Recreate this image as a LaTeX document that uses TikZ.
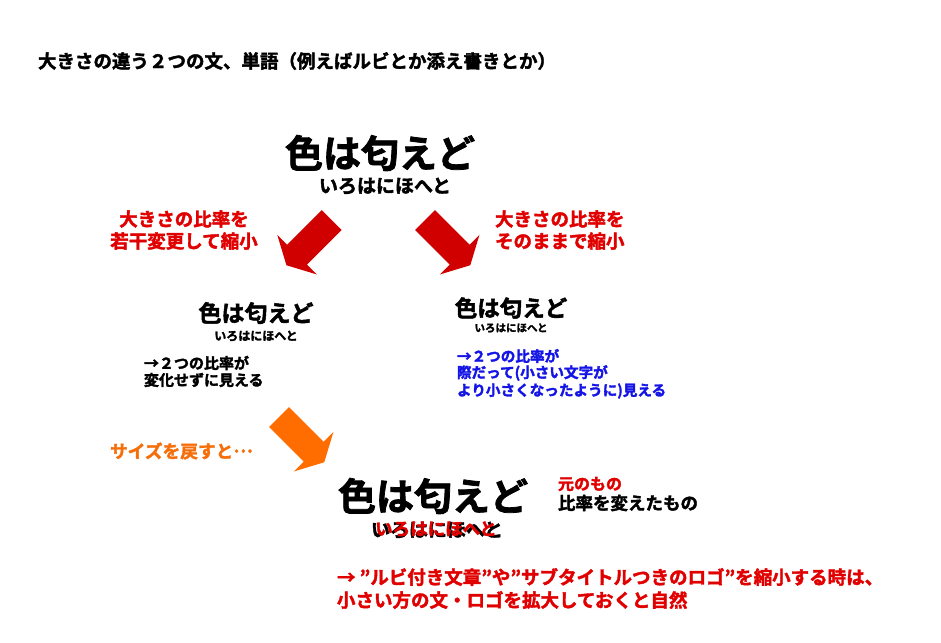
\documentclass[tikz,border=0pt]{standalone}
\usepackage{fontspec}
\setmainfont{Noto Sans CJK JP Bold}[FakeBold=2]
\definecolor{arrred}{RGB}{208,0,0}
\definecolor{txtred}{RGB}{225,0,0}
\definecolor{txtblue}{RGB}{20,20,230}
\definecolor{arrorange}{RGB}{255,108,0}
\definecolor{txtorange}{RGB}{245,110,10}
\begin{document}
\begin{tikzpicture}[x=1pt,y=-1pt]
\tikzset{
  fs/.style={font=\fontsize{#1}{#1}\selectfont},
  txt/.style={inner sep=0pt, outer sep=0pt},
  lft/.style={txt, anchor=west},
  blockarrow/.pic={\fill[pic actions] (0,-14) -- (49,-14) -- (49,-28) -- (64,0) -- (49,28) -- (49,14) -- (0,14) -- cycle;}
}
\useasboundingbox[fill=white] (0,0) rectangle (941,642);
% title
\node[lft,fs=18.5] (title) at (38,61) {大きさの違う２つの文、単語（例えばルビとか添え書きとか）};
% original
\node[txt,fs=38] (orig) at (380,153) {色は匂えど};
\node[txt,fs=19] (origruby) at (385,186) {いろはにほへと};
% captions
\node[txt,fs=18.5,text=txtred] (lt1) at (184,219) {大きさの比率を};
\node[txt,fs=18.5,text=txtred] (lt2) at (184,241) {若干変更して縮小};
\node[lft,fs=18.5,text=txtred] (rt1) at (495,219) {大きさの比率を};
\node[lft,fs=18.5,text=txtred] (rt2) at (495,241) {そのままで縮小};
% arrows
\pic[fill=arrred, rotate=-135] at (331.7,220) {blockarrow};
\pic[fill=arrred, rotate=-45] at (425,220) {blockarrow};
% left middle
\node[txt,fs=23] (lbig) at (256,313) {色は匂えど};
\node[txt,fs=12] (lruby) at (256,336) {いろはにほへと};
\node[lft,fs=15] (ln1) at (144,363) {→２つの比率が};
\node[lft,fs=15] (ln2) at (144,380) {変化せずに見える};
% right middle
\node[txt,fs=22.5] (rbig) at (511,308) {色は匂えど};
\node[txt,fs=10.5] (rruby) at (511,328) {いろはにほへと};
\node[lft,fs=14.6,text=txtblue] (rn1) at (457,356) {→２つの比率が};
\node[lft,fs=14.6,text=txtblue] (rn2) at (457,373) {際だって(小さい文字が};
\node[lft,fs=14.6,text=txtblue] (rn3) at (457,391) {より小さくなったように)見える};
% size back
\node[lft,fs=17.7,text=txtorange] (back) at (110,451) {サイズを戻すと\raisebox{0.3em}{…}};
\pic[fill=arrorange, rotate=-45] at (279,417) {blockarrow};
% bottom
\node[txt,fs=38] (bbig) at (433,496) {色は匂えど};
\node[txt,fs=19] (bruby) at (437,530) {いろはにほへと};
\node[txt,fs=17.5,text=txtred] (bruby2) at (436,529) {いろはにほへと};
\node[lft,fs=16,text=txtred] (note1) at (558,484) {元のもの};
\node[lft,fs=17.5] (note2) at (558,503) {比率を変えたもの};
% conclusion
\node[lft,fs=18.5,text=txtred] (con1) at (337,577) {→ "ルビ付き文章"や"サブタイトルつきのロゴ"を縮小する時は、};
\node[lft,fs=18.5,text=txtred] (con2) at (337,600) {小さい方の文・ロゴを拡大しておくと自然};
\end{tikzpicture}
\end{document}
